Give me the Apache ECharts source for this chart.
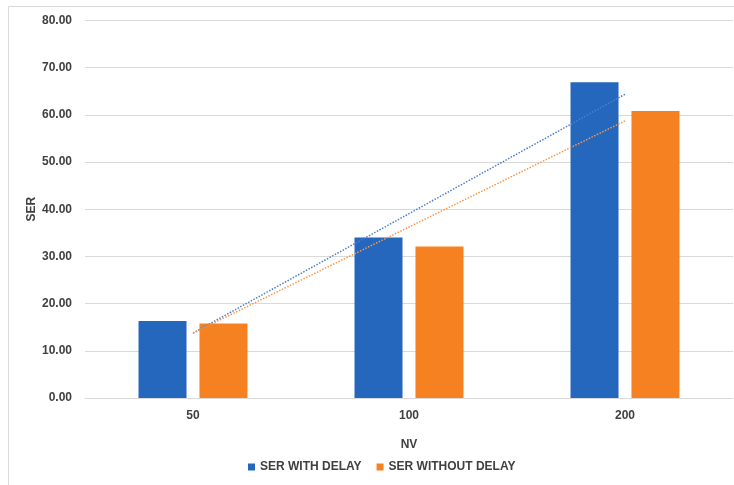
<!DOCTYPE html>
<html>
<head>
<meta charset="utf-8">
<title>SER vs NV</title>
<script src="https://cdn.jsdelivr.net/npm/echarts@6/dist/echarts.min.js"></script>
<style>
  html, body { margin: 0; padding: 0; background: #ffffff; }
  #chart { width: 734px; height: 485px; }
</style>
</head>
<body>
<div id="chart"></div>
<script>
// NV categories and SER values per series
const categories = ['50', '100', '200'];
const serWithDelay = [16.3, 34.0, 66.9];
const serWithoutDelay = [15.8, 32.1, 60.8];
const seriesNames = ['SER WITH DELAY', 'SER WITHOUT DELAY'];

const BLUE = '#2467BD';
const ORANGE = '#F58120';
const TEXT = '#404040';
const FONT = '"Liberation Sans", Arial, sans-serif';

// Least-squares linear trend over the category positions 1..n
function linearTrend(values) {
  const n = values.length;
  const xs = values.map((_, i) => i + 1);
  const mx = xs.reduce((a, b) => a + b, 0) / n;
  const my = values.reduce((a, b) => a + b, 0) / n;
  let sxy = 0, sxx = 0;
  for (let i = 0; i < n; i++) {
    sxy += (xs[i] - mx) * (values[i] - my);
    sxx += (xs[i] - mx) * (xs[i] - mx);
  }
  const slope = sxy / sxx;
  return xs.map(x => my + slope * (x - mx));
}

const chart = echarts.init(document.getElementById('chart'), null, { renderer: 'canvas' });

chart.setOption({
  backgroundColor: '#ffffff',
  animation: false,
  graphic: [{
    type: 'rect',
    shape: { x: 8.5, y: 6.5, width: 800, height: 600 },
    style: { fill: 'none', stroke: '#d9d9d9', lineWidth: 1 },
    silent: true,
    z: -10
  }],
  grid: { left: 85, right: 1, top: 20.5, bottom: 87, containLabel: false },
  legend: {
    data: seriesNames,
    left: 243,
    top: 456,
    itemWidth: 7,
    itemHeight: 7,
    itemGap: 15,
    icon: 'rect',
    textStyle: { color: TEXT, fontFamily: FONT, fontWeight: 'bold', fontSize: 12 }
  },
  xAxis: {
    type: 'category',
    data: categories,
    boundaryGap: true,
    name: 'NV',
    nameLocation: 'middle',
    nameGap: 41,
    nameMoveOverlap: false,
    nameTextStyle: { color: TEXT, fontFamily: FONT, fontWeight: 'bold', fontSize: 12 },
    axisLine: { show: true, lineStyle: { color: '#d9d9d9', width: 1 } },
    axisTick: { show: false },
    axisLabel: { color: TEXT, fontFamily: FONT, fontWeight: 'bold', fontSize: 12, margin: 12 }
  },
  yAxis: {
    type: 'value',
    min: 0,
    max: 80,
    interval: 10,
    name: 'SER',
    nameLocation: 'middle',
    nameGap: 47,
    nameMoveOverlap: false,
    nameTextStyle: { color: TEXT, fontFamily: FONT, fontWeight: 'bold', fontSize: 12 },
    axisLine: { show: false },
    axisTick: { show: false },
    splitLine: { lineStyle: { color: '#d9d9d9', width: 1 } },
    axisLabel: {
      color: TEXT, fontFamily: FONT, fontWeight: 'bold', fontSize: 12, margin: 13,
      formatter: v => v.toFixed(2)
    }
  },
  series: [
    {
      name: seriesNames[0],
      type: 'bar',
      data: serWithDelay,
      barWidth: 48,
      barGap: '27%',
      itemStyle: { color: BLUE },
      z: 2
    },
    {
      name: seriesNames[1],
      type: 'bar',
      data: serWithoutDelay,
      barWidth: 48,
      barGap: '27%',
      itemStyle: { color: ORANGE },
      z: 2
    },
    {
      name: 'trend-with-delay',
      type: 'line',
      data: linearTrend(serWithDelay),
      symbol: 'none',
      lineStyle: { color: '#4A7FD0', width: 1.5, type: [1.5, 1.5] },
      z: 3,
      silent: true
    },
    {
      name: 'trend-without-delay',
      type: 'line',
      data: linearTrend(serWithoutDelay),
      symbol: 'none',
      lineStyle: { color: '#F7964A', width: 1.5, type: [1.5, 1.5] },
      z: 3,
      silent: true
    }
  ]
});
</script>
</body>
</html>
